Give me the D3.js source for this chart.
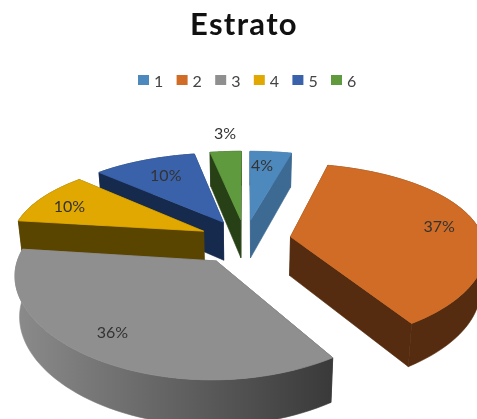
<!DOCTYPE html>
<html lang="en">

<head>
    <meta charset="UTF-8">
    <title>Estrato</title>
    <style>
        body { margin: 0; background: #fff; }
        svg { display: block; filter: blur(0.4px); }
        text { font-family: Lato, "Open Sans", sans-serif; }
    </style>
</head>

<body>
    <div id="chart"></div>
    <script src="https://d3js.org/d3.v7.min.js"></script>
    <script>
        // data
        var categories = ["1", "2", "3", "4", "5", "6"];
        var values = [4, 37, 36, 10, 10, 3];
        var topColors = ["#4e89bd", "#d06c26", "#8f8f8f", "#e0a800", "#3a62aa", "#5f9a3e"];
        var sideColors = ["#3d6a93", "#552c0f", "url(#graySide)", "#5a4500", "#162a4d", "#274015"];

        // 3d look of the pie
        var W = 477, H = 419;
        var cx = 245, cy = 240, rx = 193, ry = 88;
        var perspX = 0.13, perspY = 0.185, perspZ = 0.12;
        var depth = 39, bottomShrink = 0.98;
        // how far each slice is pulled out, the gray one a bit more
        var explode = [0.24, 0.24, 0.27, 0.24, 0.24, 0.24];
        // where each label sits: pie radii from the slice tip, degrees off the middle of the slice
        var labelR = [0.77, 0.80, 0.80, 0.80, 0.73, 1.32];
        var labelTurn = [-2, 0, 3, -3, 1, 1];

        var svg = d3.select("#chart").append("svg")
            .attr("width", W)
            .attr("height", H);

        var grad = svg.append("defs").append("linearGradient")
            .attr("id", "graySide")
            .attr("gradientUnits", "userSpaceOnUse")
            .attr("x1", 12).attr("x2", 330).attr("y1", 0).attr("y2", 0);
        grad.append("stop").attr("offset", 0).attr("stop-color", "#8c8c8c");
        grad.append("stop").attr("offset", 1).attr("stop-color", "#3a3a3a");

        // project a point of the flat pie to the screen, low = on the bottom face
        function project(u, v, low) {
            var x = rx * u / (1 + perspX * v), y = -ry * v / (1 + perspY * v);
            if (low) {
                x = x * bottomShrink;
                y = y + depth / (1 + perspZ * v);
            }
            return [cx + x, cy + y];
        }

        function polar(s, a, r, low) {
            var mid = (s.startAngle + s.endAngle) / 2;
            var e = explode[s.index];
            return project(e * Math.sin(mid) + r * Math.sin(a),
                e * Math.cos(mid) + r * Math.cos(a), low);
        }

        function arcPoints(s, low) {
            return d3.range(0, 61).map(function (i) {
                return polar(s, s.startAngle + (s.endAngle - s.startAngle) * i / 60, 1, low);
            });
        }

        function labelPos(d) {
            var a = (d.startAngle + d.endAngle) / 2 + labelTurn[d.index] * Math.PI / 180;
            return polar(d, a, labelR[d.index], false);
        }

        var slices = d3.pie().sort(null)(values);
        var line = d3.line();

        // back slices first, the gray one lies on top of everything
        var order = [4, 5, 0, 3, 1, 2];

        var g = svg.selectAll(".slice")
            .data(order.map(function (i) { return slices[i]; }))
            .join("g")
            .attr("class", "slice");

        function side(d) { return sideColors[d.index]; }
        function face(d) { return topColors[d.index]; }

        // walls: both cuts and the outer rim, stroked so no seams show
        g.append("path")
            .attr("d", function (d) {
                var a = polar(d, d.startAngle, 1, false), b = polar(d, d.startAngle, 1, true);
                return line([polar(d, 0, 0, false), a, b, polar(d, 0, 0, true)]) + "Z";
            })
            .attr("fill", side)
            .attr("stroke", side)
            .attr("stroke-width", 0.6);
        g.append("path")
            .attr("d", function (d) {
                var a = polar(d, d.endAngle, 1, false), b = polar(d, d.endAngle, 1, true);
                return line([polar(d, 0, 0, false), a, b, polar(d, 0, 0, true)]) + "Z";
            })
            .attr("fill", side)
            .attr("stroke", side)
            .attr("stroke-width", 0.6);
        g.append("path")
            .attr("d", function (d) {
                return line(arcPoints(d, false).concat(arcPoints(d, true).reverse())) + "Z";
            })
            .attr("fill", side)
            .attr("stroke", side)
            .attr("stroke-width", 0.6);
        // top face
        g.append("path")
            .attr("d", function (d) {
                return line([polar(d, 0, 0, false)].concat(arcPoints(d, false))) + "Z";
            })
            .attr("fill", face)
            .attr("stroke", face)
            .attr("stroke-width", 0.8);

        // percent labels
        var total = d3.sum(values);
        svg.selectAll(".pct")
            .data(slices)
            .join("text")
            .attr("class", "pct")
            .attr("x", function (d) { return labelPos(d)[0]; })
            .attr("y", function (d) { return labelPos(d)[1]; })
            .attr("dy", "0.35em")
            .attr("text-anchor", "middle")
            .attr("font-size", 16)
            .attr("fill", "#333")
            .text(function (d) { return Math.round(d.value / total * 100) + "%"; });

        // title
        svg.append("text")
            .attr("x", 244)
            .attr("y", 35)
            .attr("text-anchor", "middle")
            .attr("font-size", 31)
            .attr("font-weight", 700)
            .attr("letter-spacing", 1.3)
            .attr("fill", "#111")
            .text("Estrato");

        // legend
        var legendX = d3.scalePoint().domain(categories).range([138, 331]);
        var item = svg.selectAll(".legend")
            .data(categories)
            .join("g")
            .attr("class", "legend")
            .attr("transform", function (d) { return "translate(" + legendX(d) + ",75)"; });
        item.append("rect")
            .attr("width", 11)
            .attr("height", 10)
            .attr("fill", function (d, i) { return topColors[i]; });
        item.append("text")
            .attr("x", 16)
            .attr("y", 12)
            .attr("font-size", 16)
            .attr("fill", "#444")
            .text(function (d) { return d; });
    </script>
</body>

</html>
